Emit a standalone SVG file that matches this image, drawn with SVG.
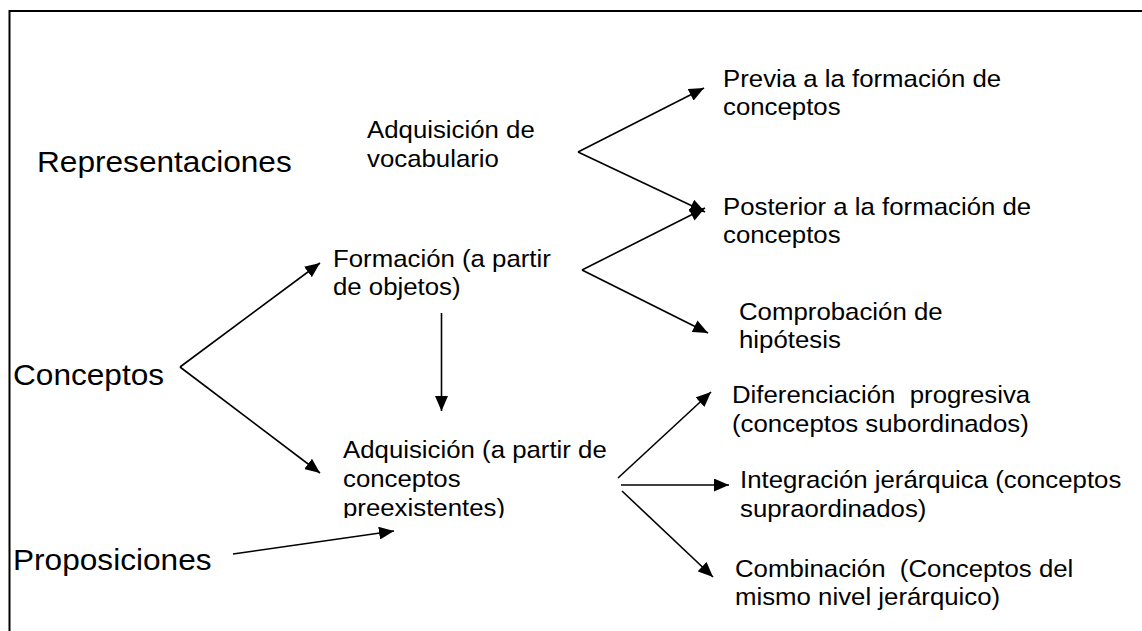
<svg xmlns="http://www.w3.org/2000/svg" width="1142" height="631" viewBox="0 0 1142 631">
<style>
text{font-family:"Liberation Sans",Arial,sans-serif;fill:#000;white-space:pre}
.lg{font-size:29px}
.sm{font-size:24px}
.c{stroke:#000;stroke-width:1.6;fill:none;marker-end:url(#ah)}
</style>
<defs>
<marker id="ah" markerUnits="userSpaceOnUse" markerWidth="15" markerHeight="13" refX="15" refY="6.5" orient="auto">
<path d="M0,0 L15,6.5 L0,13 Z" fill="#000"/>
</marker>
<clipPath id="clipAdq"><rect x="0" y="0" width="1142" height="518"/></clipPath>
</defs>
<rect width="1142" height="631" fill="#fff"/>
<path d="M9.5,631 V11 H1142" stroke="#000" stroke-width="2" fill="none"/>
<g id="connectors">
<line class="c" x1="578" y1="152" x2="704" y2="88"/>
<line class="c" x1="578" y1="152" x2="705" y2="212"/>
<line class="c" x1="582" y1="270" x2="705" y2="208"/>
<line class="c" x1="582" y1="270" x2="708" y2="333"/>
<line class="c" x1="180" y1="367" x2="320" y2="263"/>
<line class="c" x1="180" y1="367" x2="320" y2="473"/>
<line class="c" x1="441.5" y1="313" x2="441.5" y2="411"/>
<line class="c" x1="233" y1="554" x2="394" y2="531"/>
<line class="c" x1="618" y1="478" x2="711" y2="392"/>
<line class="c" x1="621" y1="485" x2="729" y2="485"/>
<line class="c" x1="622" y1="491" x2="713" y2="577"/>
</g>
<g id="representaciones"><text class="lg" transform="translate(37 172) scale(1.09 1)">Representaciones</text></g>
<g id="conceptos"><text class="lg" transform="translate(13 385) scale(1.09 1)">Conceptos</text></g>
<g id="proposiciones"><text class="lg" transform="translate(13 570) scale(1.09 1)">Proposiciones</text></g>
<g id="adq-vocab"><text class="sm" transform="translate(367 138) scale(1.075 1)"><tspan x="0">Adquisición de</tspan><tspan x="0" dy="29">vocabulario</tspan></text></g>
<g id="previa"><text class="sm" transform="translate(723 87) scale(1.075 1)"><tspan x="0">Previa a la formación de</tspan><tspan x="0" dy="28.5">conceptos</tspan></text></g>
<g id="posterior"><text class="sm" transform="translate(723 215) scale(1.075 1)"><tspan x="0">Posterior a la formación de</tspan><tspan x="0" dy="28.5">conceptos</tspan></text></g>
<g id="formacion"><text class="sm" transform="translate(333 267) scale(1.075 1)"><tspan x="0">Formación (a partir</tspan><tspan x="0" dy="28.5">de objetos)</tspan></text></g>
<g id="comprobacion"><text class="sm" transform="translate(739 320) scale(1.075 1)"><tspan x="0">Comprobación de</tspan><tspan x="0" dy="28">hipótesis</tspan></text></g>
<g id="diferenciacion"><text class="sm" transform="translate(732 403) scale(1.075 1)"><tspan x="0">Diferenciación  progresiva</tspan><tspan x="0" dy="29">(conceptos subordinados)</tspan></text></g>
<g id="adquisicion" clip-path="url(#clipAdq)"><text class="sm" transform="translate(343 458) scale(1.075 1)"><tspan x="0">Adquisición (a partir de</tspan><tspan x="0" dy="29">conceptos</tspan><tspan x="0" dy="29">preexistentes)</tspan></text></g>
<g id="integracion"><text class="sm" transform="translate(740 488) scale(1.075 1)"><tspan x="0">Integración jerárquica (conceptos</tspan><tspan x="0" dy="29">supraordinados)</tspan></text></g>
<g id="combinacion"><text class="sm" transform="translate(735 577) scale(1.075 1)"><tspan x="0">Combinación  (Conceptos del</tspan><tspan x="0" dy="28.5">mismo nivel jerárquico)</tspan></text></g>
</svg>
